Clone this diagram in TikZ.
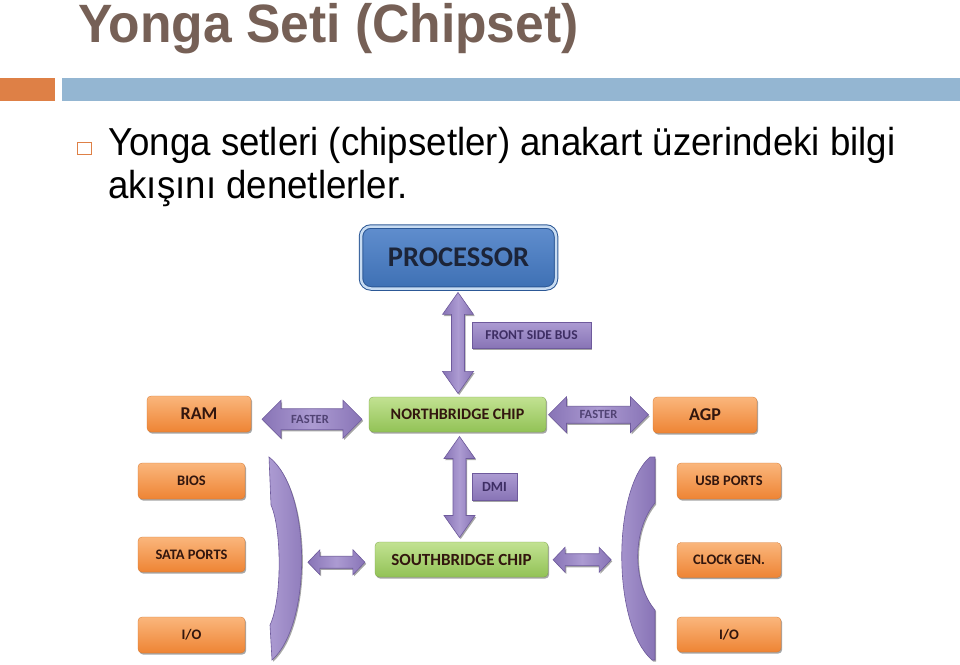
\documentclass[tikz,border=0pt]{standalone}
\usepackage{fontspec}
\usepackage{graphicx}
\setmainfont{Liberation Sans}
\newfontfamily\diag{Carlito}
\usetikzlibrary{shadows,calc}
\definecolor{titlec}{RGB}{118,96,86}
\definecolor{orbar}{RGB}{222,128,70}
\definecolor{bluebar}{RGB}{148,182,210}
\definecolor{or1}{RGB}{250,182,124}
\definecolor{or2}{RGB}{238,132,52}
\definecolor{gr1}{RGB}{194,226,146}
\definecolor{gr2}{RGB}{146,194,86}
\definecolor{pu1}{RGB}{172,155,210}
\definecolor{pu2}{RGB}{136,116,182}
\definecolor{puedge}{RGB}{110,90,156}
\definecolor{putext}{RGB}{62,46,100}
\definecolor{boxtxt}{RGB}{50,22,14}
\definecolor{pr1}{RGB}{96,142,206}
\definecolor{pr2}{RGB}{62,112,180}
\definecolor{predge}{RGB}{44,88,150}
\definecolor{prdouble}{RGB}{200,220,242}
\tikzset{
  shad/.style={drop shadow={shadow xshift=1.2pt, shadow yshift=-1.6pt, fill=black, opacity=0.35}},
  obox/.style={rectangle, rounded corners=4pt, top color=or1, bottom color=or2, draw=or2!90!black, line width=0.3pt,
    inner sep=0pt, text=boxtxt, font=\diag\bfseries\fontsize{14.5}{15}\selectfont, shad},
  gbox/.style={rectangle, rounded corners=4pt, top color=gr1, bottom color=gr2, draw=gr2!85!black, line width=0.3pt,
    inner sep=0pt, text=boxtxt, font=\diag\bfseries\fontsize{16}{17}\selectfont, shad},
  pbox/.style={rectangle, top color=pu1, bottom color=pu2, draw=puedge, line width=0.4pt,
    inner sep=0pt, text=putext, font=\diag\bfseries\fontsize{13.5}{14}\selectfont, shad},
  arrowstyle/.style={left color=pu2, right color=pu2, middle color=pu1, draw=puedge, line width=0.6pt, shad},
  bracketstyle/.style={left color=pu1, right color=pu2, draw=puedge, line width=0.6pt, shad},
  lbl/.style={inner sep=0pt, text=putext!90!white, font=\diag\bfseries\fontsize{12.5}{13}\selectfont},
  pics/dblarrow/.style n args={4}{code={
    \path[arrowstyle] (-#1,0) -- (-#1+#4,#3) -- (-#1+#4,#2) -- (#1-#4,#2) -- (#1-#4,#3) -- (#1,0)
      -- (#1-#4,-#3) -- (#1-#4,-#2) -- (-#1+#4,-#2) -- (-#1+#4,-#3) -- cycle;
  }}
}
\begin{document}
\begin{tikzpicture}[x=1pt,y=-1pt]
\useasboundingbox (0,0) rectangle (960,664);
\fill[white] (0,0) rectangle (960,664);
% header
\node[anchor=base west, inner sep=0pt, text=titlec, font=\bfseries\fontsize{54}{56}\selectfont] (title) at (78,42) {\scalebox{0.955}[1]{Yonga Seti (Chipset)}};
\fill[orbar] (0,78) rectangle (55,101);
\fill[bluebar] (62,78) rectangle (960,101);
\node[draw=orbar, line width=1.2pt, minimum width=13.5pt, minimum height=12.5pt, inner sep=0pt] (bul) at (84.5,148.5) {};
\node[anchor=base west, inner sep=0pt, font=\fontsize{39}{40}\selectfont] (b1) at (108,155) {\scalebox{0.94}[1]{Yonga setleri (chipsetler) anakart üzerindeki bilgi}};
\node[anchor=base west, inner sep=0pt, font=\fontsize{39}{40}\selectfont] (b2) at (108,198) {\scalebox{0.94}[1]{akışını denetlerler.}};
% processor
\node[rectangle, rounded corners=10pt, top color=pr1, bottom color=pr2, draw=predge, line width=1pt,
  double=prdouble, double distance=2.5pt, minimum width=195pt, minimum height=62pt, inner sep=0pt,
  text={rgb,255:red,28;green,36;blue,56}, font=\diag\bfseries\fontsize{28.5}{29}\selectfont] (proc) at (458.5,257.5) {PROCESSOR};
% chips
\node[gbox, minimum width=177pt, minimum height=35pt] (nb) at (457.5,414.5) {NORTHBRIDGE CHIP};
\node[gbox, minimum width=173pt, minimum height=35pt, font=\diag\bfseries\fontsize{17}{18}\selectfont] (sb) at (461.5,559.5) {SOUTHBRIDGE CHIP};
% orange boxes
\node[obox, minimum width=104pt, minimum height=36pt, font=\diag\bfseries\fontsize{18}{19}\selectfont] (ram) at (199,414) {RAM};
\node[obox, minimum width=104pt, minimum height=36pt, font=\diag\bfseries\fontsize{18}{19}\selectfont] (agp) at (705,415) {AGP};
\node[obox, minimum width=107pt, minimum height=36pt] (bios) at (191.5,481) {BIOS};
\node[obox, minimum width=107pt, minimum height=35pt] (sata) at (191.5,554.5) {SATA PORTS};
\node[obox, minimum width=107pt, minimum height=36pt] (iol) at (191.5,635) {I/O};
\node[obox, minimum width=104pt, minimum height=36pt] (usb) at (729,481) {USB PORTS};
\node[obox, minimum width=104pt, minimum height=35pt] (clk) at (729,560) {CLOCK GEN.};
\node[obox, minimum width=104pt, minimum height=35pt] (ior) at (729,634.5) {I/O};
% brackets
\path[bracketstyle] (269,457) -- (271,505) .. controls (282,530) and (282,600) .. (270,625) -- (272,660)
  .. controls (312,625) and (312,490) .. (269,457) -- cycle;
\path[bracketstyle] (650,457) -- (655,457) -- (655,503) .. controls (632,530) and (632,583) .. (655,610) -- (655,660) -- (652,660)
  .. controls (612,625) and (612,490) .. (650,457) -- cycle;
\coordinate (lbr) at (302,563);
\coordinate (rbr) at (616,560);
% arrows
\pic[rotate=90] at ($(proc.south)!0.5!(nb.north)$) {dblarrow={50.5}{6.5}{15.5}{22}};
\pic[rotate=90] at ($(nb.south)!0.5!(sb.north)$) {dblarrow={50.5}{6.5}{15.5}{22}};
\pic at ($(ram.east)!0.5!(nb.west)+(2,5)$) {dblarrow={50}{10.5}{19}{19}};
\pic at ($(nb.east)!0.5!(agp.west)+(-1,0)$) {dblarrow={50}{8.5}{18}{18}};
\pic at ($(lbr)!0.5!(sb.west)+(-2,1)$) {dblarrow={28.5}{6}{12.5}{12}};
\pic at ($(sb.east)!0.5!(rbr)$) {dblarrow={29}{6}{12.5}{12}};
% labels
\node[lbl] (f1) at ($(ram.east)!0.5!(nb.west)+(0,5)$) {FASTER};
\node[lbl] (f2) at ($(nb.east)!0.5!(agp.west)+(-1,0)$) {FASTER};
\node[pbox, minimum width=119pt, minimum height=26pt] (fsb) at (531.5,335) {FRONT SIDE BUS};
\node[pbox, minimum width=45pt, minimum height=27pt, font=\diag\bfseries\fontsize{14}{15}\selectfont] (dmi) at (494.5,486.5) {DMI};
\end{tikzpicture}
\end{document}
